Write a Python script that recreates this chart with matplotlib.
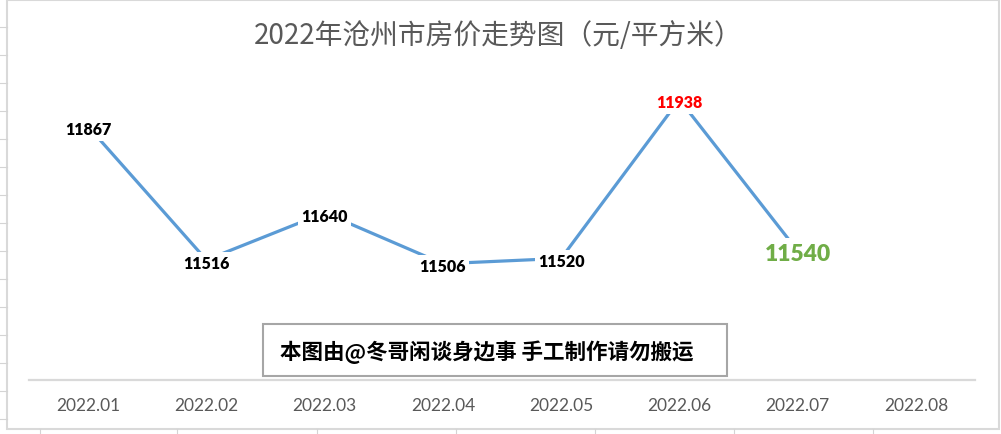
import matplotlib
matplotlib.use("Agg")
import matplotlib.pyplot as plt
from matplotlib.patches import Rectangle
from matplotlib.lines import Line2D

# Data
months = ["2022.01", "2022.02", "2022.03", "2022.04", "2022.05", "2022.06", "2022.07", "2022.08"]
prices = [11867, 11516, 11640, 11506, 11520, 11938, 11540]
title = "2022年沧州市房价走势图（元/平方米）"
watermark = "本图由@冬哥闲谈身边事 手工制作请勿搬运"

W, H = 1001, 435
fig = plt.figure(figsize=(W / 100, H / 100), dpi=100)
fig.patch.set_facecolor("white")


def fx(px):
    return px / W


def fy(py):
    return 1 - py / H


# spreadsheet background bits around the chart area
grid = "#D4D4D4"
for yy in range(28, 430, 28):
    fig.add_artist(Line2D([fx(0), fx(7)], [fy(yy), fy(yy)], color=grid, lw=0.8))
for xx in [40, 177, 317, 456, 595, 734, 873]:
    fig.add_artist(Line2D([fx(xx), fx(xx)], [fy(430), fy(435)], color=grid, lw=0.8))
fig.add_artist(Rectangle((fx(7), fy(430)), fx(992), 429 / H, transform=fig.transFigure,
                         fill=False, edgecolor="#D9D9D9", lw=1.5))

# Plot area
ax = fig.add_axes([fx(29), fy(381), fx(946), 304 / H])
x = list(range(len(prices)))
ax.plot(x, prices, color="#5B9BD5", lw=2.3, solid_capstyle="butt", zorder=2)
ax.set_xlim(-0.5, len(months) - 0.5)
ax.set_ylim(11200, 12000)
ax.set_xticks(range(len(months)))
ax.set_xticklabels(months, fontfamily="Lato", fontsize=12.5, color="#595959")
ax.tick_params(axis="x", length=0, pad=12)
ax.set_yticks([])
for s in ["top", "left", "right"]:
    ax.spines[s].set_visible(False)
ax.spines["bottom"].set_color("#D9D9D9")
ax.spines["bottom"].set_linewidth(1.6)

# data labels sit on the points with a white box
top = prices.index(max(prices))
for i, p in enumerate(prices):
    color, size = "black", 11.5
    if i == top:
        color = "#FF0000"
    if i == len(prices) - 1:
        color, size = "#70AD47", 16.5
    ax.annotate(str(p), (i, p), xytext=(0, -2), textcoords="offset points",
                ha="center", va="center", fontfamily="Lato", fontweight="heavy",
                fontsize=size, color=color, zorder=3,
                bbox=dict(boxstyle="square,pad=0.2", facecolor="white", edgecolor="none"))

# title
fig.text(fx(498), fy(36), title, ha="center", va="center", fontsize=20, color="#595959",
         family=["Noto Sans CJK SC", "DejaVu Sans"])

# watermark box
fig.add_artist(Rectangle((fx(263), fy(377)), fx(464), 52 / H, transform=fig.transFigure,
                         facecolor="white", edgecolor="#A6A6A6", lw=1.5, zorder=5))
fig.text(fx(487), fy(352), watermark, ha="center", va="center", fontsize=15.5, color="black",
         fontweight="heavy", family=["Noto Sans CJK SC", "DejaVu Sans"], zorder=6)

fig.savefig("out.png", dpi=100)
